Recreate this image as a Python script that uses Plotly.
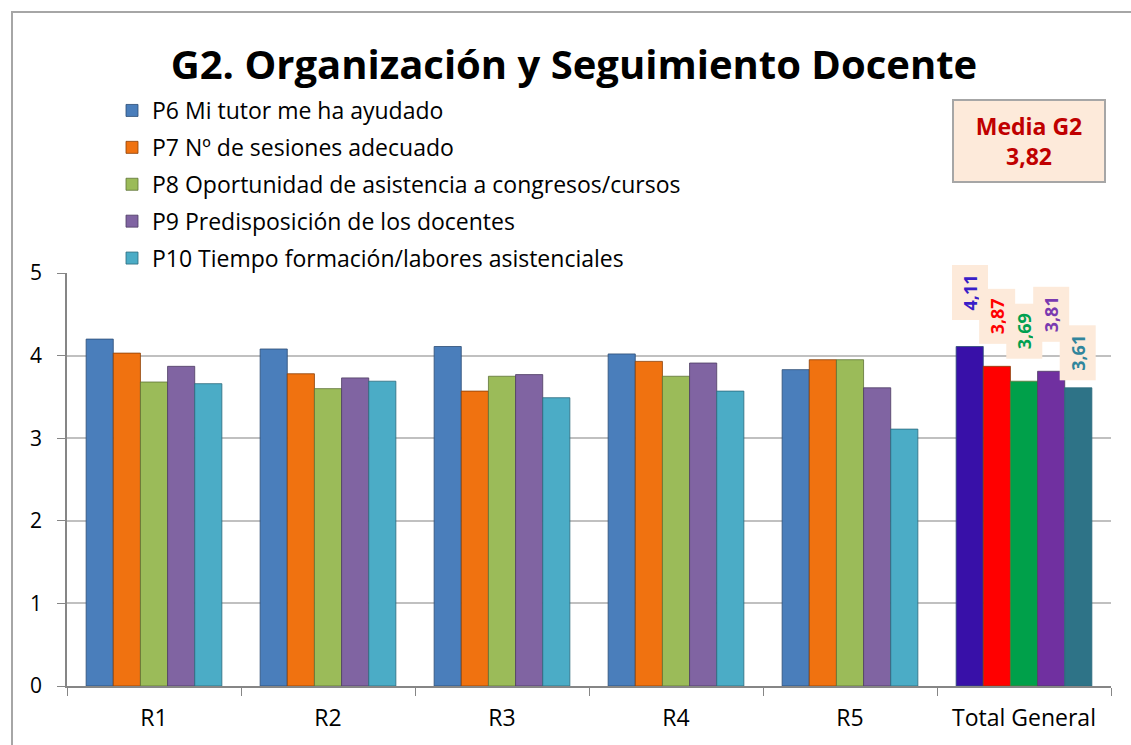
import plotly.graph_objects as go

categories = ["R1", "R2", "R3", "R4", "R5", "Total General"]
series_names = [
    "P6 Mi tutor me ha ayudado",
    "P7 Nº de sesiones adecuado",
    "P8 Oportunidad de asistencia a congresos/cursos",
    "P9 Predisposición de los docentes",
    "P10 Tiempo formación/labores asistenciales",
]
p6 = [4.20, 4.08, 4.11, 4.02, 3.83, 4.11]
p7 = [4.03, 3.78, 3.57, 3.93, 3.95, 3.87]
p8 = [3.68, 3.60, 3.75, 3.75, 3.95, 3.69]
p9 = [3.87, 3.73, 3.77, 3.91, 3.61, 3.81]
p10 = [3.66, 3.69, 3.49, 3.57, 3.11, 3.61]
total_labels = ["4,11", "3,87", "3,69", "3,81", "3,61"]
media_label = "Media G2"
media_value = "3,82"
y_ticks = [0, 1, 2, 3, 4, 5]

series_values = [p6, p7, p8, p9, p10]
base_colors = ["#4A7EBB", "#F07210", "#9BBB59", "#8064A2", "#4BACC6"]
total_colors = ["#3810A8", "#FF0000", "#00A04A", "#7030A0", "#2E7387"]
label_colors = ["#3A1FC8", "#FF0000", "#00A050", "#7A3AB0", "#31859C"]
edge_colors = ["#2C4D75", "#8A3F06", "#5E7236", "#4D3C62", "#2B6A7C"]

W, H = 1131, 745
L, R, T, B = 67, 1111, 273, 686
FONT = "Open Sans"


def px_x(p):
    return (p - L) / (R - L)


def px_y(p):
    return (B - p) / (B - T)


fig = go.Figure()
for i, (name, vals) in enumerate(zip(series_names, series_values)):
    colors = [base_colors[i]] * (len(categories) - 1) + [total_colors[i]]
    fig.add_trace(go.Bar(
        x=categories, y=vals, name=name,
        marker=dict(color=colors, line=dict(color=edge_colors[i], width=0.8)),
        legendgroup=name,
    ))

# rotated value labels on Total General bars
x_shifts = [-54, -27, 0, 27, 54]
y_shifts = [26, 22, 22, 29, 7]
for i in range(5):
    fig.add_annotation(
        x=categories[-1], y=series_values[i][-1], xref="x", yref="y",
        text="<b>%s</b>" % total_labels[i], showarrow=False, textangle=-90,
        xshift=x_shifts[i], yshift=y_shifts[i], yanchor="bottom",
        font=dict(size=18, color=label_colors[i], family=FONT),
        bgcolor="#FDEADA", width=54, height=35, borderpad=0,
    )

# Media box
fig.add_annotation(
    x=px_x(1029), y=px_y(141), xref="paper", yref="paper",
    text="<b>%s<br>%s</b>" % (media_label, media_value), showarrow=False,
    font=dict(size=23, color="#C00000", family=FONT),
    bgcolor="#FDEADA", bordercolor="#A6A6A6", borderwidth=2,
    width=148, height=78, xanchor="center", yanchor="middle",
)

# outer chart frame
fig.add_shape(type="rect", xref="paper", yref="paper",
              x0=px_x(12), x1=px_x(1140), y0=px_y(760), y1=px_y(12),
              line=dict(color="#A6A6A6", width=2), layer="below")

fig.update_layout(
    width=W, height=H,
    margin=dict(l=L, r=W - R, t=T, b=H - B),
    paper_bgcolor="white", plot_bgcolor="white",
    barmode="group", bargap=0.22, bargroupgap=0,
    font=dict(family=FONT, size=21, color="#000000"),
    title=dict(text="<b>G2. Organización y Seguimiento Docente</b>",
               x=574 / W, y=1 - 65 / H, xanchor="center", yanchor="middle",
               font=dict(size=40, family=FONT, color="#000000")),
    legend=dict(x=px_x(112), y=px_y(89), xanchor="left", yanchor="top",
                orientation="v", font=dict(size=23), tracegroupgap=4,
                bgcolor="rgba(0,0,0,0)"),
    xaxis=dict(type="category", showline=True, linecolor="#868686", linewidth=1.5,
               ticks="outside", tickson="boundaries", ticklen=8, tickcolor="#868686",
               tickfont=dict(size=23), ticklabelstandoff=11),
    yaxis=dict(range=[0, 5], tickvals=y_ticks, showline=True, linecolor="#868686",
               linewidth=1.5, ticks="outside", ticklen=8, tickcolor="#868686",
               gridcolor="#C0C0C0", gridwidth=2, tickfont=dict(size=21),
               ticklabelstandoff=11, zeroline=False),
)

fig.write_html("out.html", config={"displayModeBar": False},
               post_script="document.body.style.margin='0px';")
